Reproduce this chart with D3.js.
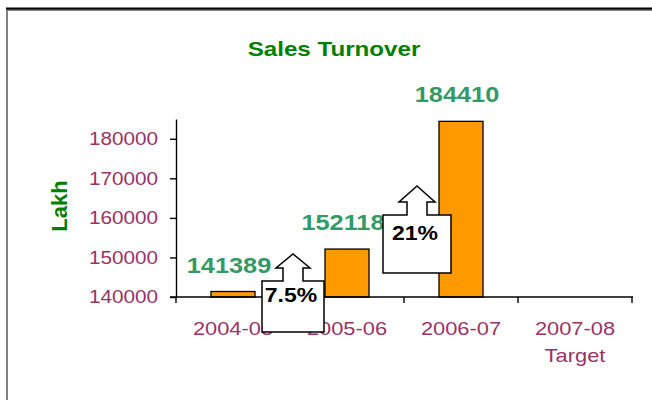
<!DOCTYPE html>
<html>
<head>
<meta charset="utf-8">
<script src="https://cdn.jsdelivr.net/npm/d3@7"></script>
<style>
  body { margin: 0; background: #fff; }
  svg { display: block; font-family: "Liberation Sans", Arial, sans-serif; }
</style>
</head>
<body>
<svg width="652" height="400"></svg>
<script>
// chart data
var categories = ["2004-05", "2005-06", "2006-07", "2007-08"];
var subLabels = ["", "", "", "Target"];
var turnover = [141389, 152118, 184410, null];
var growth = ["7.5%", "21%"];
var yTicks = [140000, 150000, 160000, 170000, 180000];

var svg = d3.select("svg");
var stretch = 1.15;   // text in the picture is a bit wide

// frame
svg.append("rect")
    .attr("x", 7).attr("y", 10)
    .attr("width", 700).attr("height", 500)
    .attr("fill", "none")
    .attr("stroke", "#808080")
    .attr("stroke-width", 2);
svg.append("line")
    .attr("x1", 6).attr("x2", 652)
    .attr("y1", 8.5).attr("y2", 8.5)
    .attr("stroke", "#000")
    .attr("stroke-width", 2);

var x = d3.scaleBand()
    .domain(categories)
    .range([176, 632])
    .paddingInner(0.614)
    .paddingOuter(0.307);

var y = d3.scaleLinear()
    .domain([140000, 185000])
    .range([297, 119]);

// title
svg.append("text")
    .attr("class", "wide")
    .attr("x", 334).attr("y", 56)
    .attr("text-anchor", "middle")
    .style("font-size", "21px")
    .style("font-weight", "bold")
    .attr("fill", "#008000")
    .text("Sales Turnover");

// y axis title
svg.append("text")
    .attr("transform", "translate(67,206) rotate(-90)")
    .attr("text-anchor", "middle")
    .style("font-size", "22px")
    .style("font-weight", "bold")
    .attr("fill", "#008000")
    .text("Lakh");

// y axis
var yAxis = svg.append("g")
    .attr("transform", "translate(176,0)")
    .call(d3.axisLeft(y).tickValues(yTicks).tickSize(6).tickSizeOuter(0).tickPadding(12).tickFormat(d3.format("d")));
yAxis.select(".domain").attr("stroke", "#000").attr("stroke-width", 1.4);
yAxis.selectAll(".tick line").attr("stroke", "#000").attr("stroke-width", 1.4);
yAxis.selectAll("text")
    .attr("class", "wide")
    .attr("fill", "#993366")
    .style("font-size", "18px")
    .style("font-family", "'Liberation Sans', Arial, sans-serif");

// bars
svg.selectAll("rect.bar")
    .data(turnover.map(function(v, i) { return {cat: categories[i], v: v}; }).filter(function(d) { return d.v != null; }))
    .enter()
    .append("rect")
    .attr("class", "bar")
    .attr("x", function(d) { return x(d.cat); })
    .attr("y", function(d) { return y(d.v); })
    .attr("width", x.bandwidth())
    .attr("height", function(d) { return y(140000) - y(d.v); })
    .attr("fill", "#ff9900")
    .attr("stroke", "#000")
    .attr("stroke-width", 1.3);

// x axis line and boundary ticks
svg.append("line")
    .attr("x1", 170).attr("x2", 633)
    .attr("y1", y(140000)).attr("y2", y(140000))
    .attr("stroke", "#000")
    .attr("stroke-width", 1.4);
var x0 = x.range()[0];
svg.selectAll("line.xtick")
    .data(d3.range(categories.length + 1))
    .enter()
    .append("line")
    .attr("class", "xtick")
    .attr("x1", function(i) { return x0 + i * x.step(); })
    .attr("x2", function(i) { return x0 + i * x.step(); })
    .attr("y1", y(140000)).attr("y2", y(140000) + 6)
    .attr("stroke", "#000")
    .attr("stroke-width", 1.4);

// category labels
svg.selectAll("text.cat")
    .data(categories)
    .enter()
    .append("text")
    .attr("class", "cat wide")
    .attr("x", function(d) { return x(d) + x.bandwidth() / 2; })
    .attr("y", 335)
    .attr("text-anchor", "middle")
    .style("font-size", "19px")
    .attr("fill", "#993366")
    .text(function(d) { return d; });
svg.selectAll("text.sub")
    .data(categories.filter(function(d, i) { return subLabels[i] != ""; }))
    .enter()
    .append("text")
    .attr("class", "sub wide")
    .attr("x", function(d) { return x(d) + x.bandwidth() / 2; })
    .attr("y", 362)
    .attr("text-anchor", "middle")
    .style("font-size", "19px")
    .attr("fill", "#993366")
    .text(function(d) { return subLabels[categories.indexOf(d)]; });

// value labels
svg.selectAll("text.val")
    .data(turnover.map(function(v, i) { return {cat: categories[i], v: v}; }).filter(function(d) { return d.v != null; }))
    .enter()
    .append("text")
    .attr("class", "val wide")
    .attr("x", function(d) { return x(d.cat) + x.bandwidth() / 2 - 4; })
    .attr("y", function(d) { return y(d.v) - 19; })
    .attr("text-anchor", "middle")
    .style("font-size", "22px")
    .style("font-weight", "bold")
    .attr("fill", "#339966")
    .text(function(d) { return d3.format("d")(d.v); });

// growth callouts (up block arrows with a box)
var callouts = [
    {dx: 3, top: 281, w: 62, h: 51, stem: 10, head: 17, stemH: 13, headH: 14, textY: 21},
    {dx: 13, top: 215, w: 68, h: 58, stem: 10, head: 18, stemH: 13, headH: 16, textY: 25}
];
growth.forEach(function(g, i) {
    var c = callouts[i];
    var cx = x0 + (i + 1) * x.step() + c.dx;
    var bx = cx - c.w / 2, by = c.top;
    var pts = [
        [bx, by], [cx - c.stem, by], [cx - c.stem, by - c.stemH], [cx - c.head, by - c.stemH],
        [cx, by - c.stemH - c.headH],
        [cx + c.head, by - c.stemH], [cx + c.stem, by - c.stemH], [cx + c.stem, by],
        [bx + c.w, by], [bx + c.w, by + c.h], [bx, by + c.h]
    ];
    svg.append("path")
        .attr("d", d3.line()(pts) + "Z")
        .attr("fill", "#fff")
        .attr("stroke", "#000")
        .attr("stroke-width", 1.5);
    svg.append("text")
        .attr("class", "wide")
        .attr("x", cx - 2)
        .attr("y", by + c.textY)
        .attr("text-anchor", "middle")
        .style("font-size", "20px")
        .style("font-weight", "bold")
        .attr("fill", "#000")
        .text(g);
});

// widen text to match the picture
svg.selectAll(".wide").each(function() {
    var w = this.getComputedTextLength();
    this.setAttribute("textLength", w * stretch);
    this.setAttribute("lengthAdjust", "spacingAndGlyphs");
});
</script>
</body>
</html>
